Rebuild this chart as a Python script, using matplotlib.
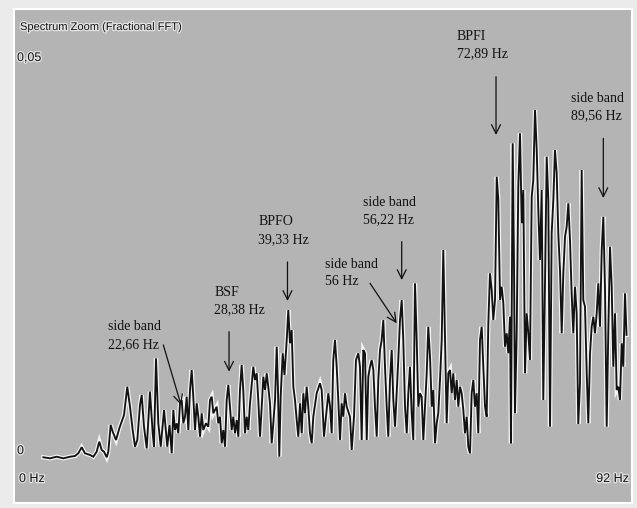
import matplotlib
matplotlib.use("Agg")
import matplotlib.pyplot as plt
import matplotlib.patheffects as pe

# spectrum read out in Hz / amplitude
freq_hz = [
    0.05, 1.10, 2.15, 3.19, 4.25, 5.03, 5.55, 6.08, 6.60, 7.39,
    7.91, 8.44, 8.85, 9.23, 9.59, 10.02, 10.27, 10.64, 10.96, 11.48,
    12.00, 12.37, 12.74, 13.25, 13.68, 14.10, 14.47, 14.83, 15.25, 15.52,
    15.88, 16.31, 16.62, 16.82, 17.25, 17.45, 17.77, 18.13, 18.51,
    19.03, 19.54, 19.89, 20.24, 20.49, 20.75, 21.02, 21.27, 21.54, 21.81,
    22.06, 22.33, 22.59, 22.85, 23.11, 23.38, 23.63, 23.90, 24.17, 24.42,
    24.69, 24.95, 25.20, 25.63, 25.99, 26.26, 26.53, 26.78, 27.04, 27.31,
    27.56, 27.83, 28.10, 28.35, 28.62, 28.88, 29.14, 29.40, 29.67, 29.92,
    30.19, 30.46, 30.71, 30.97, 31.24, 31.49, 31.76, 32.03, 32.28, 32.55,
    33.07, 33.33, 33.60, 33.85, 34.12, 34.39, 34.64, 34.91, 35.17, 35.42,
    35.69, 35.96, 36.21, 36.48, 36.75, 36.95, 37.15, 37.37, 37.69, 37.97,
    38.32, 38.57,
    38.84, 39.10, 39.36, 39.62, 39.89, 40.14, 40.41, 40.68, 40.93, 41.19,
    41.46, 41.71, 41.98, 42.25, 42.50, 43.03, 43.55, 43.82, 44.18, 44.50,
    44.86, 45.13, 45.39, 45.64, 45.91, 46.18, 46.43, 46.70, 46.96, 47.22,
    47.48, 47.75, 48.27, 48.54, 48.90, 49.21, 49.58, 49.84, 50.11, 50.36,
    50.63, 50.90, 51.15, 51.42, 51.68, 51.94, 52.20, 52.47, 52.72, 52.99,
    53.25, 53.51, 53.77, 54.04, 54.29, 54.56, 54.83, 55.08, 55.35, 55.61,
    55.86, 56.13, 56.40, 56.65,
    56.92, 57.19, 57.44, 57.70, 57.97, 58.22, 58.49, 58.76, 59.01, 59.28,
    59.54, 59.80, 60.06, 60.33, 60.58, 60.85, 61.12, 61.37, 61.64, 61.90,
    62.15, 62.42, 62.69, 62.94, 63.21, 63.47, 63.73, 63.99, 64.26, 64.51,
    64.78, 65.05, 65.30, 65.57, 65.83, 66.09, 66.35, 66.62, 66.87, 67.14,
    67.40, 67.66, 67.92, 68.19, 68.44, 68.71, 68.98, 69.23, 69.50, 69.76,
    70.02, 70.28,
    70.55, 70.80, 71.07, 71.34, 71.59, 71.86, 72.12, 72.38, 72.64, 72.91,
    73.16, 73.43, 73.58, 73.85, 74.06, 74.21, 74.48, 74.73, 75.00, 75.27,
    75.52, 75.79, 76.05, 76.31, 76.57, 76.84, 77.09, 77.36, 77.63, 77.88,
    78.14, 78.41, 78.66, 78.93, 79.20, 79.45, 79.72, 79.98, 80.24, 80.50,
    80.77, 81.02, 81.29, 81.56, 81.81, 82.08, 82.34, 82.60,
    82.86, 83.12, 83.38, 83.65, 83.91, 84.16, 84.43, 84.70, 84.95, 85.22,
    85.49, 85.74, 86.01, 86.27, 86.53, 86.79, 87.06, 87.31, 87.58, 87.85,
    88.10, 88.36, 88.63, 88.88, 89.15, 89.42, 89.67, 89.94, 90.20, 90.46,
    90.72, 90.99, 91.24, 91.51, 91.75,
]

amplitude = [
    0.00034, 0.00021, 0.00041, 0.00021, 0.00041, 0.00050, 0.00084, 0.00159, 0.00084, 0.00063,
    0.00041, 0.00104, 0.00229, 0.00125, 0.00104, 0.00034, 0.00104, 0.00438, 0.00354, 0.00250,
    0.00396, 0.00479, 0.00563, 0.00916, 0.00666, 0.00375, 0.00166, 0.00250, 0.00688, 0.00813,
    0.00416, 0.00146, 0.00584, 0.00854, 0.00334, 0.00166, 0.01271, 0.00459, 0.00166,
    0.00625, 0.00166, 0.00438, 0.00084, 0.00625, 0.00375, 0.00459, 0.00334, 0.00709, 0.00750,
    0.00459, 0.00541, 0.00791, 0.00375, 0.00875, 0.01125, 0.00791, 0.00375, 0.00709, 0.00541,
    0.00291, 0.00584, 0.00375, 0.00459, 0.00416, 0.00750, 0.00791, 0.00584, 0.00625, 0.00666,
    0.00459, 0.00541, 0.00209, 0.00375, 0.00166, 0.00750, 0.00938, 0.00666, 0.00375, 0.00541,
    0.00334, 0.00500, 0.00291, 0.00875, 0.01188, 0.00875, 0.00334, 0.00541, 0.00375, 0.00709,
    0.01166, 0.01000, 0.01084, 0.00750, 0.00291, 0.00666, 0.01041, 0.00875, 0.01084, 0.00916,
    0.00709, 0.00209, 0.00459, 0.00750, 0.01416, 0.00875, 0.00041, 0.00791, 0.01334, 0.01063,
    0.01500, 0.01875,
    0.01459, 0.01625, 0.00916, 0.00750, 0.00500, 0.00291, 0.00709, 0.00334, 0.00834, 0.00584,
    0.00916, 0.00666, 0.00334, 0.00209, 0.00541, 0.00834, 0.00959, 0.00875, 0.00291, 0.00541,
    0.00834, 0.00666, 0.00334, 0.01250, 0.01500, 0.01166, 0.00750, 0.00250, 0.00709, 0.00541,
    0.00834, 0.00666, 0.00541, 0.00125, 0.00541, 0.01250, 0.01334, 0.01166, 0.00250, 0.01375,
    0.01334, 0.00250, 0.01041, 0.01166, 0.01250, 0.01125, 0.00666, 0.00291, 0.01000, 0.01375,
    0.01500, 0.01750, 0.01166, 0.00666, 0.00291, 0.01000, 0.01375, 0.00750, 0.00416, 0.00834,
    0.01250, 0.01750, 0.02000, 0.01500,
    0.00666, 0.00334, 0.00834, 0.01166, 0.00584, 0.00250, 0.02209, 0.01500, 0.00666, 0.00834,
    0.00791, 0.00250, 0.00666, 0.01084, 0.01666, 0.01291, 0.00666, 0.00875, 0.00209, 0.00459,
    0.00584, 0.01000, 0.01500, 0.02625, 0.01500, 0.00459, 0.01084, 0.01125, 0.00834, 0.01084,
    0.00750, 0.01000, 0.00666, 0.00916, 0.00834, 0.00625, 0.00334, 0.00541, 0.00166, 0.00084,
    0.00834, 0.01000, 0.00666, 0.00834, 0.00334, 0.01500, 0.01666, 0.01166, 0.00666, 0.00541,
    0.01709, 0.02334,
    0.02125, 0.01750, 0.02000, 0.03541, 0.03250, 0.02000, 0.02166, 0.01959, 0.01416, 0.01584,
    0.01334, 0.01791, 0.00209, 0.03959, 0.02416, 0.00584, 0.01584, 0.03416, 0.04084, 0.02959,
    0.03375, 0.01084, 0.01834, 0.01584, 0.01250, 0.03291, 0.03500, 0.04375, 0.03875, 0.03125,
    0.02500, 0.03375, 0.00750, 0.02209, 0.03791, 0.03250, 0.00416, 0.02834, 0.03250, 0.03875,
    0.03584, 0.02834, 0.02375, 0.01584, 0.02334, 0.02791, 0.02916, 0.03209,
    0.02750, 0.02084, 0.01584, 0.02166, 0.01834, 0.00450, 0.00959, 0.03625, 0.02000, 0.01916,
    0.01084, 0.00459, 0.01334, 0.01666, 0.01791, 0.01584, 0.01834, 0.02209, 0.01666, 0.02625,
    0.03041, 0.02166, 0.00416, 0.01584, 0.02666, 0.02166, 0.01166, 0.01834, 0.00875, 0.00916,
    0.00750, 0.01459, 0.01166, 0.02084, 0.01563,
]

# marked frequencies: label, text anchor, arrow tail, arrow head
marker_labels = ["side band\n22,66 Hz", "BSF\n28,38 Hz", "BPFO\n39,33 Hz",
                 "side band\n56 Hz", "side band\n56,22 Hz", "BPFI\n72,89 Hz",
                 "side band\n89,56 Hz"]
label_pos = [(10.27, 0.01556), (26.93, 0.01988), (33.81, 0.02869),
             (44.34, 0.02338), (50.36, 0.03113), (65.05, 0.05190),
             (82.97, 0.04415)]
arrow_tail = [(18.92, 0.01438), (29.25, 0.01604), (38.44, 0.02475),
              (51.42, 0.02209), (56.40, 0.02729), (71.23, 0.04791),
              (88.10, 0.04021)]
arrow_head = [(21.70, 0.00688), (29.25, 0.01104), (38.44, 0.01988),
              (55.61, 0.01709), (56.40, 0.02250), (71.23, 0.04063),
              (88.10, 0.03275)]

W, H = 637, 508
fig = plt.figure(figsize=(W / 100, H / 100), dpi=100)
fig.patch.set_facecolor("#ebebeb")

ax = fig.add_axes([14 / W, 5 / H, 618 / W, 494 / H])
ax.set_facecolor("#b4b4b4")
ax.set_xlim(-4.56, 92.61)
ax.set_ylim(-0.005375, 0.056375)
ax.set_xticks([])
ax.set_yticks([])
for s in ax.spines.values():
    s.set_color("white")
    s.set_linewidth(1.5)

# trace with the light edge seen on the screen plot
ax.plot(freq_hz, amplitude, color="#f4f4f4", lw=3.1, solid_joinstyle="miter")
ax.plot(freq_hz, amplitude, color="#121212", lw=1.35, solid_joinstyle="miter")

for lab, pos, tail, head in zip(marker_labels, label_pos, arrow_tail, arrow_head):
    ax.text(pos[0], pos[1], lab, ha="left", va="center", fontsize=10,
            family=["Liberation Serif", "DejaVu Serif"], color="#111111",
            linespacing=1.45)
    ax.annotate("", xy=head, xytext=tail,
                arrowprops=dict(arrowstyle="->", color="#111111", lw=0.9,
                                mutation_scale=16, shrinkA=0, shrinkB=0))

# screen captions
halo = [pe.withStroke(linewidth=1.8, foreground="#e4e4e4")]
sans = ["Liberation Sans", "DejaVu Sans"]
def caption(x, y, s, ha="left", size=9.0):
    fig.text(x / W, 1 - y / H, s, ha=ha, va="center", fontsize=size,
             family=sans, color="#111111", path_effects=halo)

caption(20, 27, "Spectrum Zoom (Fractional FFT)", size=8.0)
caption(17, 58, "0,05")
caption(17, 451, "0")
caption(19, 479, "0 Hz")
caption(629, 479, "92 Hz", ha="right")

fig.savefig("out.png", dpi=100, facecolor=fig.get_facecolor())
